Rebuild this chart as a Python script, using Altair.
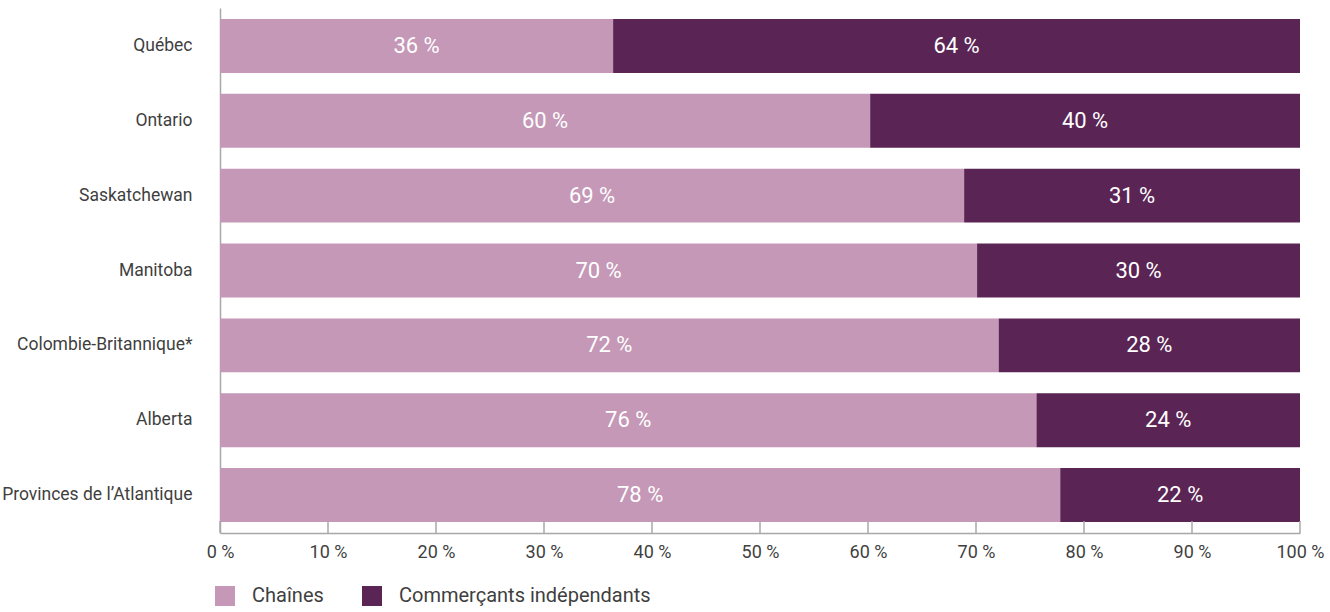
import altair as alt
import pandas as pd

regions = ["Québec", "Ontario", "Saskatchewan", "Manitoba", "Colombie-Britannique*", "Alberta", "Provinces de l\u2019Atlantique"]
chaines = [36.4, 60.2, 68.9, 70.1, 72.1, 75.6, 77.8]
independants = [63.6, 39.8, 31.1, 29.9, 27.9, 24.4, 22.2]
series = ["Chaînes", "Commerçants indépendants"]
colors = ["#C498B6", "#5A2455"]
ticks = [0, 10, 20, 30, 40, 50, 60, 70, 80, 90, 100]

rows = []
for r, a, b in zip(regions, chaines, independants):
    rows.append({"region": r, "series": series[0], "order": 0, "value": a})
    rows.append({"region": r, "series": series[1], "order": 1, "value": b})
df = pd.DataFrame(rows)
tick_df = pd.DataFrame({"t": ticks})

FONT = "Roboto"
W, H = 1080, 525

base = alt.Chart(df).transform_stack(
    stack="value", groupby=["region"], as_=["v0", "v1"], sort=[{"field": "order", "order": "ascending"}]
).transform_calculate(
    mid="(datum.v0 + datum.v1) / 2",
    label="format(datum.value, '.0f') + ' %'"
)

y_enc = alt.Y("region:N", sort=regions, title=None,
              scale=alt.Scale(paddingInner=0.28, paddingOuter=0.147),
              axis=alt.Axis(ticks=False, tickSize=0, labelPadding=28, labelFontSize=17.5,
                            labelLimit=0, labelColor="#3f3f3f", labelFont=FONT,
                            domainColor="#a8a8a8", domainWidth=1.5, grid=False))

bars = base.mark_bar().encode(
    x=alt.X("v0:Q", title=None, scale=alt.Scale(domain=[0, 100], nice=False),
            axis=alt.Axis(values=ticks, labelExpr="datum.value + ' %'", ticks=False, tickSize=0,
                          labelFlush=False, labelOverlap=False,
                          labelPadding=10, labelFontSize=18, labelColor="#3f3f3f", labelFont=FONT,
                          domainColor="#a8a8a8", domainWidth=1.5, grid=False)),
    x2="v1:Q",
    y=y_enc,
    color=alt.Color("series:N", scale=alt.Scale(domain=series, range=colors), title=None,
                    legend=alt.Legend(orient="none", legendX=-5, legendY=578, direction="horizontal",
                                      symbolType="square", symbolSize=400, symbolStrokeWidth=0,
                                      symbolOpacity=1, labelFontSize=20, labelFont=FONT,
                                      labelLimit=0, labelColor="#3f3f3f", labelOffset=17,
                                      columnPadding=38, padding=0)),
)

labels = base.mark_text(color="white", fontSize=22, font=FONT).encode(
    x="mid:Q",
    y=alt.Y("region:N", sort=regions),
    text="label:N",
)

tick_marks = alt.Chart(tick_df).mark_rule(color="#a8a8a8", strokeWidth=1.5).encode(
    x="t:Q",
    y=alt.value(H - 12),
    y2=alt.value(H),
)

chart = alt.layer(bars, labels, tick_marks).properties(
    width=W, height=H,
    autosize=alt.AutoSizeParams(type="none"),
    padding={"left": 220, "top": 8, "right": 30, "bottom": 79},
    background="white",
).configure_view(stroke=None)

chart.save("out.html", embed_options={"renderer": "svg", "actions": False})
